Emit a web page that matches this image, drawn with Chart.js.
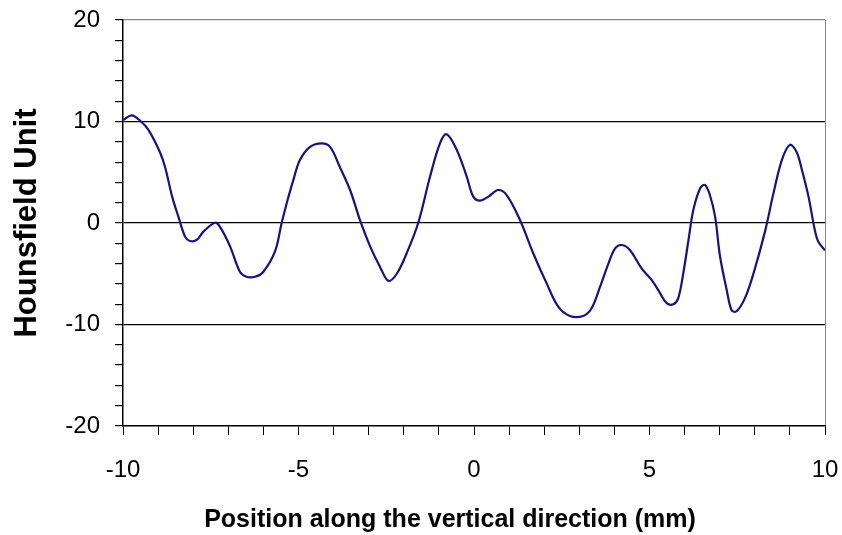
<!DOCTYPE html>
<html>
<head>
<meta charset="utf-8">
<script src="https://cdn.jsdelivr.net/npm/chart.js@4"></script>
<style>
  html, body { margin: 0; padding: 0; background: #fff; }
  #wrap { width: 842px; height: 535px; }
</style>
</head>
<body>
<div id="wrap"><canvas id="chart" width="842" height="535"></canvas></div>
<script>
// profile: position (mm) and Hounsfield unit
const positions = [
  -10, -9.75, -9.52, -9.28, -8.95, -8.8, -8.6, -8.42, -8.23, -8.09, -7.9, -7.71, -7.38, -7.24,
  -6.95, -6.67, -6.48, -6.24, -6.0, -5.67, -5.48, -5.34, -5.15, -4.96, -4.67, -4.34, -4.1,
  -3.82, -3.53, -3.25, -2.96, -2.68, -2.44, -2.2, -1.92, -1.59, -1.25, -0.97, -0.78, -0.49,
  -0.21, -0.02, 0.17, 0.41, 0.69, 0.93, 1.31, 1.69, 2.07, 2.4, 2.73, 3.11, 3.35, 3.59, 3.83,
  4.02, 4.21, 4.44, 4.78, 5.06, 5.3, 5.49, 5.68, 5.82, 5.96, 6.11, 6.25, 6.44, 6.58, 6.72,
  6.87, 7.01, 7.2, 7.34, 7.48, 7.72, 7.96, 8.29, 8.53, 8.77, 9.0, 9.19, 9.33, 9.53, 9.71,
  9.81, 10
];
const hounsfield = [
  10.15, 10.6, 10.1, 9.2, 7.0, 5.5, 2.6, 0.6, -1.35, -1.77, -1.67, -0.85, 0.03, -0.36,
  -2.3, -4.8, -5.3, -5.3, -4.8, -2.8, 0, 1.9, 4.2, 6.2, 7.5, 7.85, 7.5,
  5.5, 3.25, 0.3, -2.3, -4.3, -5.7, -5.0, -3.0, 0, 4.6, 7.85, 8.75, 7.2,
  4.6, 2.6, 2.2, 2.6, 3.25, 2.75, 0.3, -3.0, -5.95, -8.25, -9.16, -9.16, -8.4, -6.3, -4.0,
  -2.5, -2.17, -2.66, -4.5, -5.6, -6.9, -7.9, -8.0, -7.4, -5.0, -1.7, 1.3, 3.4, 3.75, 2.76,
  0.6, -3.3, -6.6, -8.6, -8.7, -7.4, -5.0, -0.85, 2.9, 6.2, 7.7, 7.0, 5.4, 2.6, -0.7,
  -1.85, -2.7
];
const xLabels = [-10, -5, 0, 5, 10];
const yLabels = [-20, -10, 0, 10, 20];
const xTitle = 'Position along the vertical direction (mm)';
const yTitle = 'Hounsfield Unit';

const FONT = 'Arial, "Liberation Sans", sans-serif';

// x title sits a bit left of the plot centre in the original, so draw it by hand
const xTitlePlugin = {
  id: 'xTitle',
  afterDraw(chart) {
    const ctx = chart.ctx;
    ctx.save();
    ctx.font = 'bold 25px ' + FONT;
    ctx.fillStyle = '#000';
    ctx.textAlign = 'center';
    ctx.textBaseline = 'alphabetic';
    ctx.fillText(xTitle, 450, 527);
    ctx.restore();
  }
};

new Chart(document.getElementById('chart'), {
  type: 'line',
  data: {
    datasets: [{
      data: positions.map((x, i) => ({ x: x, y: hounsfield[i] })),
      borderColor: '#12128a',
      borderWidth: 2.2,
      pointRadius: 0,
      tension: 0.35,
      fill: false
    }]
  },
  plugins: [xTitlePlugin],
  options: {
    responsive: false,
    animation: false,
    layout: { padding: 0 },
    plugins: {
      legend: { display: false },
      tooltip: { enabled: false }
    },
    scales: {
      x: {
        type: 'linear',
        min: -10,
        max: 10,
        afterFit: s => {
          s.height = 109;
          s.paddingLeft = 0;
          s.paddingRight = 17;
        },
        afterBuildTicks: s => {
          const t = [];
          for (let v = -10; v <= 10; v++) t.push({ value: v });
          s.ticks = t;
        },
        ticks: {
          autoSkip: false,
          maxRotation: 0,
          padding: 21,
          color: '#000',
          font: { family: FONT, size: 24 },
          callback: v => xLabels.includes(v) ? String(v) : ''
        },
        grid: {
          drawOnChartArea: true,
          tickLength: 9,
          tickColor: '#000',
          lineWidth: 1,
          color: c => c.tick && c.tick.value === 10 ? '#888' : 'rgba(0,0,0,0)'
        },
        border: { display: true, color: '#000', width: 1.5 }
      },
      y: {
        min: -20,
        max: 20,
        afterFit: s => {
          s.width = 123;
          s.paddingTop = 20;
          s.paddingBottom = 0;
        },
        afterBuildTicks: s => {
          const t = [];
          for (let v = -20; v <= 20; v += 2) t.push({ value: v });
          s.ticks = t;
        },
        ticks: {
          autoSkip: false,
          padding: 15,
          color: '#000',
          font: { family: FONT, size: 24 },
          callback: v => yLabels.includes(v) ? String(v) : ''
        },
        grid: {
          drawOnChartArea: true,
          tickLength: 8,
          tickColor: '#000',
          lineWidth: 1.2,
          color: c => {
            if (!c.tick) return 'rgba(0,0,0,0)';
            const v = c.tick.value;
            if (v === 20) return '#888';
            if (v === 10 || v === 0 || v === -10) return '#000';
            return 'rgba(0,0,0,0)';
          }
        },
        border: { display: true, color: '#000', width: 1.5 },
        title: {
          display: true,
          text: yTitle,
          color: '#000',
          font: { family: FONT, size: 31, weight: 'bold' },
          padding: { top: 9, bottom: 0 }
        }
      }
    }
  }
});
</script>
</body>
</html>
